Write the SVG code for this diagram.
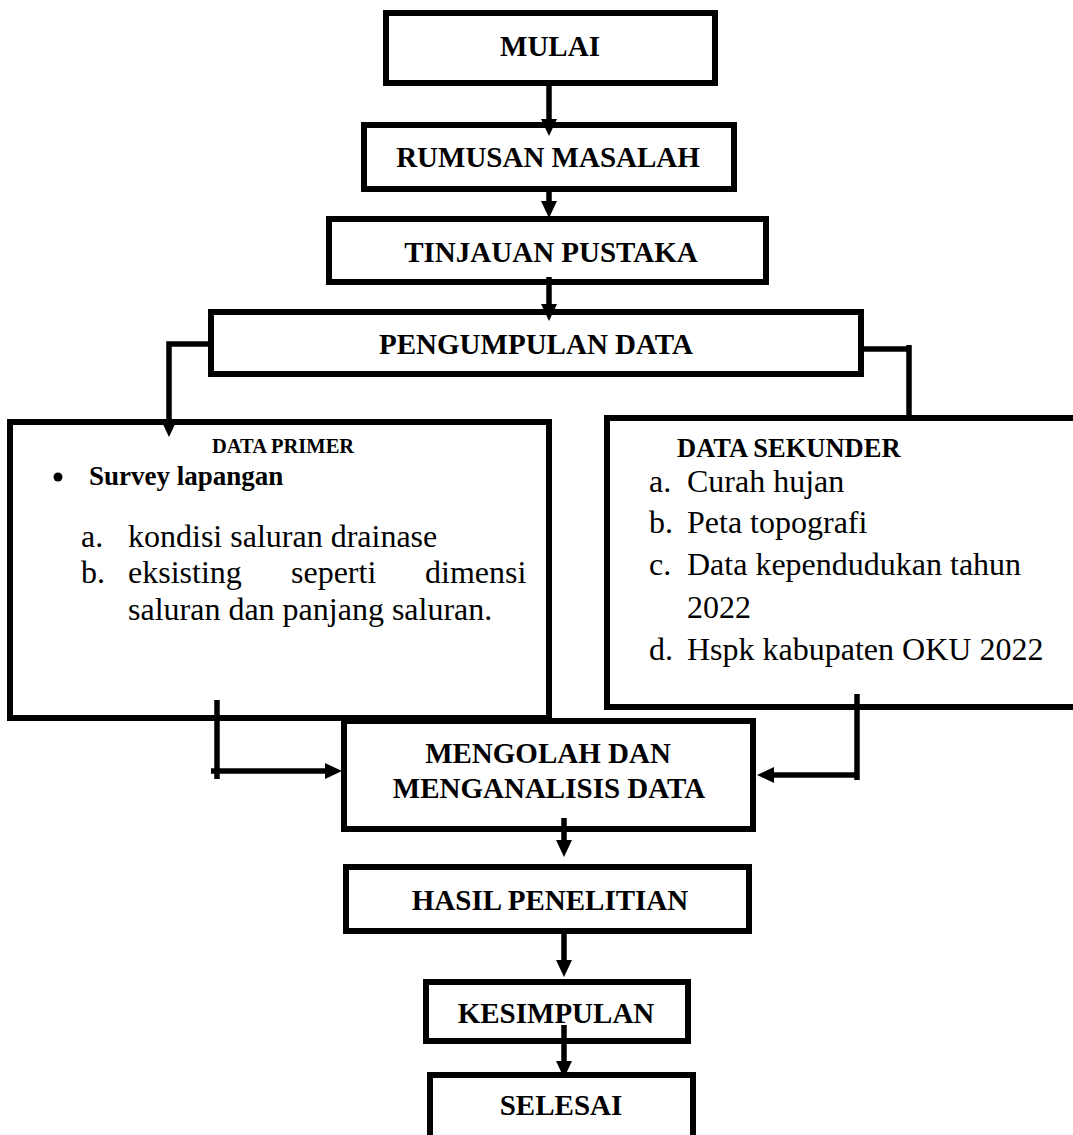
<svg xmlns="http://www.w3.org/2000/svg" width="1073" height="1135" viewBox="0 0 1073 1135">
<style>
.box{fill:#fff;stroke:#000;stroke-width:6}
.ln{fill:none;stroke:#000;stroke-width:5.5}
.t{font-family:"Liberation Serif","Times New Roman",serif;font-weight:bold;font-size:29px;fill:#000;text-anchor:middle}
.r{font-family:"Liberation Serif","Times New Roman",serif;font-size:32px;fill:#000}
.b{font-family:"Liberation Serif","Times New Roman",serif;font-weight:bold;fill:#000}
</style>
<defs>
<marker id="ah" markerUnits="userSpaceOnUse" markerWidth="17" markerHeight="17" refX="5" refY="8" orient="auto" viewBox="0 0 17 16">
<path d="M0,0 L17,8 L0,16 z" fill="#000"/>
</marker>
</defs>
<rect width="1073" height="1135" fill="#fff"/>
<g id="mulai"><rect class="box" x="386" y="13" width="329" height="70"/><text class="t" x="550" y="56">MULAI</text></g>
<g id="rumusan"><rect class="box" x="364" y="125" width="370" height="64"/><text class="t" x="548" y="167">RUMUSAN MASALAH</text></g>
<g id="tinjauan"><rect class="box" x="329" y="219" width="437" height="63"/><text class="t" x="551" y="262">TINJAUAN PUSTAKA</text></g>
<g id="pengumpulan"><rect class="box" x="211" y="312" width="650" height="62"/><text class="t" x="536" y="354">PENGUMPULAN DATA</text></g>
<g id="primer"><rect class="box" x="10" y="422" width="539" height="296"/>
<text class="b" x="212" y="453" font-size="20.5">DATA PRIMER</text>
<circle cx="58" cy="477" r="4.5" fill="#000"/>
<text class="b" x="89" y="485" font-size="27">Survey lapangan</text>
<text class="r" x="81" y="547">a.</text><text class="r" x="128" y="547">kondisi saluran drainase</text>
<text class="r" x="81" y="583">b.</text><text class="r" x="128" y="583">eksisting</text><text class="r" x="291" y="583">seperti</text><text class="r" x="425" y="583">dimensi</text>
<text class="r" x="128" y="620">saluran dan panjang saluran.</text>
</g>
<g id="sekunder"><rect class="box" x="607" y="418" width="480" height="289"/>
<text class="b" x="677" y="457" font-size="26.5">DATA SEKUNDER</text>
<text class="r" x="649" y="492">a.</text><text class="r" x="687" y="492">Curah hujan</text>
<text class="r" x="649" y="533">b.</text><text class="r" x="687" y="533">Peta topografi</text>
<text class="r" x="649" y="575">c.</text><text class="r" x="687" y="575">Data kependudukan tahun</text>
<text class="r" x="687" y="618">2022</text>
<text class="r" x="649" y="660" font-size="27">d.</text><text class="r" x="687" y="660">Hspk kabupaten OKU 2022</text>
</g>
<g id="mengolah"><rect class="box" x="344" y="721" width="409" height="108"/>
<text class="t" x="548" y="763">MENGOLAH DAN</text><text class="t" x="549" y="798">MENGANALISIS DATA</text></g>
<g id="hasil"><rect class="box" x="346" y="867" width="403" height="64"/><text class="t" x="550" y="910">HASIL PENELITIAN</text></g>
<g id="kesimpulan"><rect class="box" x="426" y="982" width="262" height="59"/><text class="t" x="556" y="1023">KESIMPULAN</text></g>
<g id="selesai"><rect class="box" x="430" y="1075" width="263" height="80"/><text class="t" x="561" y="1115">SELESAI</text></g>
<g id="connectors">
<path class="ln" d="M549,83 V124" marker-end="url(#ah)"/>
<path class="ln" d="M549,189 V206" marker-end="url(#ah)"/>
<path class="ln" d="M549,277 V309" marker-end="url(#ah)"/>
<path class="ln" d="M211,344 H169 V425" marker-end="url(#ah)"/>
<path class="ln" d="M861,349 H909"/>
<path class="ln" d="M909,345 V419"/>
<path class="ln" d="M217,700 V779"/>
<path class="ln" d="M211,771 H330" marker-end="url(#ah)"/>
<path class="ln" d="M857,694 V780"/>
<path class="ln" d="M857,775 H769" marker-end="url(#ah)"/>
<path class="ln" d="M564,818 V845" marker-end="url(#ah)"/>
<path class="ln" d="M564,931 V965" marker-end="url(#ah)"/>
<path class="ln" d="M564,1025 V1066" marker-end="url(#ah)"/>
</g>
</svg>
